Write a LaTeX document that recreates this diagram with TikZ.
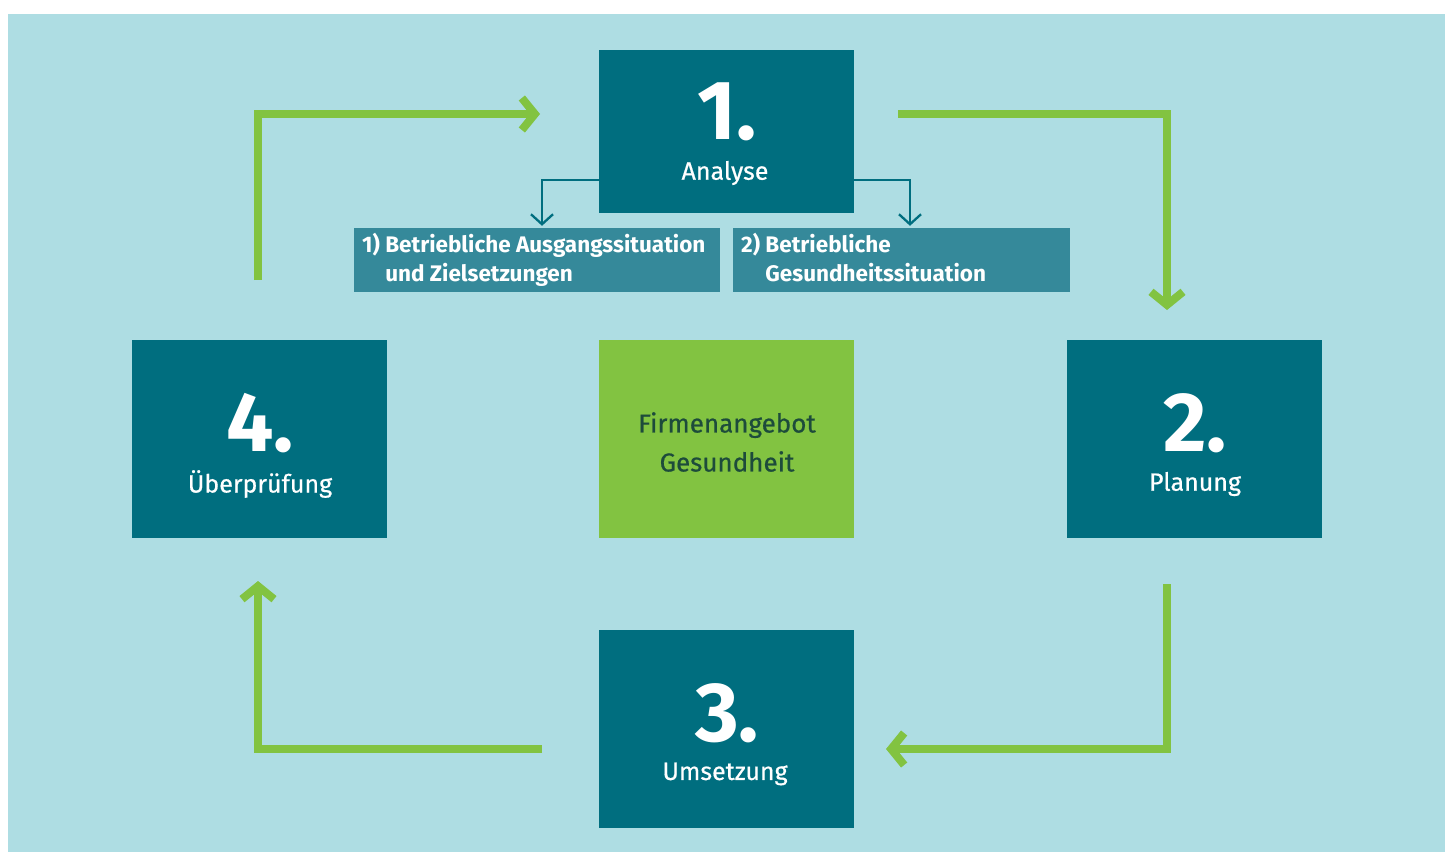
\documentclass[tikz,border=0pt]{standalone}
\usepackage{fontspec}
\setmainfont{Fira Sans}
\newfontfamily\medfont[FakeBold=0.6]{Fira Sans}
\usetikzlibrary{arrows.meta}
\definecolor{bgc}{HTML}{AEDDE3}
\definecolor{boxteal}{HTML}{006E7F}
\definecolor{subteal}{HTML}{35899A}
\definecolor{grn}{HTML}{82C341}
\definecolor{dkgrn}{HTML}{1D4B3B}
\begin{document}
\begin{tikzpicture}[x=1pt,y=-1pt,
  stepbox/.style={fill=boxteal,draw=none,inner sep=0pt,minimum width=255pt,minimum height=198pt},
  subbox/.style={fill=subteal,draw=none,inner sep=0pt,minimum height=64pt},
  numtxt/.style={text=white,font=\fontsize{84}{84}\selectfont\bfseries,inner sep=0pt},
  lbltxt/.style={text=white,font=\medfont\fontsize{25}{28}\selectfont,inner sep=0pt},
  subtxt/.style={text=white,font=\fontsize{22.5}{29}\selectfont\bfseries,inner sep=0pt,anchor=north west},
  garrow/.style={draw=grn,line width=8pt,-{Straight Barb[length=13pt,width=32pt]}},
  tarrow/.style={draw=boxteal,line width=2.3pt,-{Straight Barb[length=10pt,width=22pt]}}
]
\useasboundingbox (0,0) rectangle (1451,852);
\fill[white] (0,0) rectangle (1451,852);
\fill[bgc] (8,14) rectangle (1445,852);

% boxes
\node[stepbox,minimum height=163pt] (s1) at (726.5,131.5) {};
\node[stepbox] (s2) at (1194.5,439) {};
\node[stepbox] (s3) at (726.5,729) {};
\node[stepbox] (s4) at (259.5,439) {};
\node[stepbox,fill=grn] (c) at (726.5,439) {};
\node[subbox,minimum width=366pt] (sb1) at (537,260) {};
\node[subbox,minimum width=337pt] (sb2) at (901.5,260) {};

% texts
\node[numtxt] (n1) at (727,112) {1.};
\node[lbltxt] (l1) at (725,173) {Analyse};
\node[numtxt] (n2) at (1195,423) {2.};
\node[lbltxt] (l2) at (1195,484) {Planung};
\node[numtxt] (n3) at (727,713) {3.};
\node[lbltxt] (l3) at (725,774) {Umsetzung};
\node[numtxt] (n4) at (260,423) {4.};
\node[lbltxt] (l4) at (260,484) {Überprüfung};
\node[text=dkgrn,font=\medfont\fontsize{26}{39}\selectfont,align=center,inner sep=0pt] (ct) at (727,442) {Firmenangebot\\Gesundheit};
\node[subtxt] (t1) at (362,231.5) {\begin{tabular}{@{}l@{\ }l@{}}1) & Betriebliche Ausgangssituation\\ & und Zielsetzungen\end{tabular}};
\node[subtxt] (t2) at (741,231.5) {\begin{tabular}{@{}l@{\ }l@{}}2) & Betriebliche\\ & Gesundheitssituation\end{tabular}};

% teal connectors
\draw[tarrow] ([yshift=-48.5pt]s1.west) -| ([xshift=5pt,yshift=2pt]sb1.north);
\draw[tarrow] ([yshift=-48.5pt]s1.east) -| ([xshift=8.5pt,yshift=2pt]sb2.north);

% green cycle arrows
\coordinate (g1a) at (898,114);
\coordinate (g1b) at (1167,310);
\coordinate (g2a) at (1167,584);
\coordinate (g2b) at (886,749);
\coordinate (g3a) at (542,749);
\coordinate (g3b) at (258,581);
\coordinate (g4a) at (258,280);
\coordinate (g4b) at (540,114);
\draw[garrow] (g1a) -| (g1b);
\draw[garrow] (g2a) |- (g2b);
\draw[garrow] (g3a) -| (g3b);
\draw[garrow] (g4a) |- (g4b);
\end{tikzpicture}
\end{document}
